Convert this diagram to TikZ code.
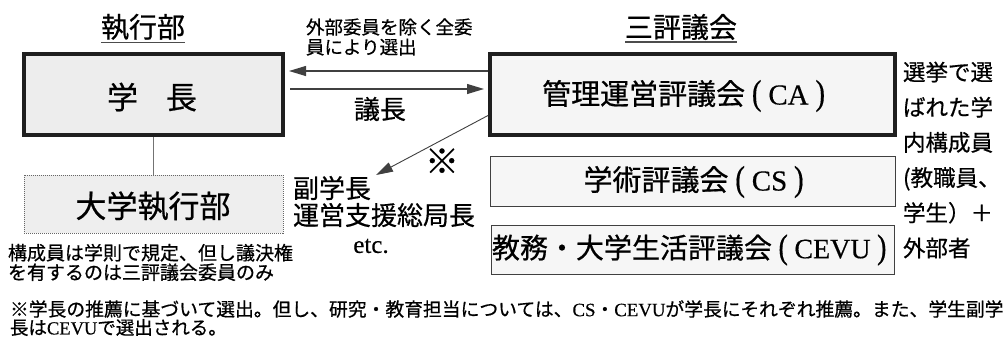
\documentclass[tikz,border=0pt]{standalone}
\usepackage{fontspec}
\usepackage{graphicx}
\setmainfont{Liberation Serif}
\newfontfamily\jp{Noto Sans CJK JP}
\newfontfamily\jpb[FakeBold=0.6]{Noto Sans CJK JP}
\newfontfamily\serb[FakeBold=0.4]{Liberation Serif}
\usetikzlibrary{arrows.meta}
\newcommand{\fs}[2]{\fontsize{#1}{#2}\selectfont}
\newcommand{\lpar}{\makebox[0.8em]{\serb\scalebox{1}[1.22]{(}}}
\newcommand{\rpar}{\makebox[0.8em]{\serb\scalebox{1}[1.22]{)}}}
\newcommand{\lat}[1]{{\serb #1}}
\tikzset{
  bigbox/.style={draw=black!88, line width=4pt, fill=gray!14, inner sep=0pt},
  thinbox/.style={draw=black!75, line width=1pt, fill=gray!7, inner sep=0pt},
  dotbox/.style={draw=black!60, dash pattern=on 1pt off 1pt, line width=0.9pt, fill=gray!13, inner sep=0pt},
  txt/.style={inner sep=0pt, outer sep=0pt, text=black},
  conn/.style={draw=black!65, line width=1.1pt},
  arr/.style={draw=black!75, line width=1.1pt, -{Triangle[length=17pt,width=10pt]}},
  uline/.style={draw=black!70, line width=1.2pt}
}
\begin{document}
\begin{tikzpicture}[x=1pt,y=-1pt]
\useasboundingbox[fill=white] (0,0) rectangle (1004,338);

% titles
\node[txt, font=\jpb\fs{28}{30}] (t1) at (143,27) {執行部};
\draw[uline] ([yshift=-2pt]t1.south west) -- ([yshift=-2pt]t1.south east);
\node[txt, font=\jpb\fs{28}{30}] (t2) at (681,27) {三評議会};
\draw[uline] ([yshift=-2pt]t2.south west) -- ([yshift=-2pt]t2.south east);

% boxes
\node[bigbox, minimum width=259pt, minimum height=81pt] (pres) at (153.5,94.5) {};
\node[txt, font=\jpb\fs{31}{33}] at (152,97) {学\hspace{0.9em}長};

\node[bigbox, fill=gray!8, minimum width=405pt, minimum height=81pt] (ca) at (692.5,94.5) {};
\node[txt, font=\jpb\fs{29}{31}] at (687,96) {管理運営評議会\lpar\lat{CA}\rpar};

\node[thinbox, minimum width=405pt, minimum height=50pt] (cs) at (692.5,181.5) {};
\node[txt, font=\jpb\fs{29}{31}] at (697,182) {学術評議会\lpar\lat{CS}\rpar};

\node[thinbox, minimum width=403pt, minimum height=49pt] (cevu) at (692.5,249.5) {};
\node[txt, font=\jpb\fs{28}{30}] at (692.5,250) {教務・大学生活評議会\lpar\lat{CEVU}\rpar};

\node[dotbox, minimum width=259pt, minimum height=58pt] (exec) at (153.5,204) {};
\node[txt, font=\jpb\fs{31}{33}] at (153,206) {大学執行部};

% connectors
\draw[conn, draw=black!55, line width=1.4pt] (pres.south) -- (exec.north);
\draw[arr, shorten >=4pt] ([yshift=23.5pt]ca.west) -- ([yshift=23.5pt]pres.east);
\draw[arr, shorten <=5pt, shorten >=4pt] ([yshift=5.5pt]pres.east) -- ([yshift=5.5pt]ca.west);
\coordinate (vp) at (376,175);
\draw[arr, line width=0.9pt] ([yshift=-21pt]ca.west) -- (vp);

% labels
\node[txt, font=\jpb\fs{18.5}{20}, align=left, anchor=west] (sel) at (306,37) {外部委員を除く全委\\員により選出};
\node[txt, font=\jpb\fs{26}{27}] (chair) at (380,109) {議長};
\node[txt, font=\jpb\fs{34}{36}] (mark) at (442,161) {※};
\node[txt, font=\jpb\fs{26}{27}, align=left, anchor=west] (vice) at (293,201.5) {副学長\\運営支援総局長};
\node[txt, font=\serb\fs{25}{26}] (etc) at (371,246) {etc.};
\node[txt, font=\jpb\fs{19}{19.5}, align=left, anchor=west] (memb) at (8,262.5) {構成員は学則で規定、但し議決権\\を有するのは三評議会委員のみ};
\node[txt, font=\jpb\fs{22.5}{35.2}, align=left, anchor=west] (elect) at (903,160) {選挙で選\\ばれた学\\内構成員\\(教職員、\\学生）＋\\外部者};

% note
\node[txt, font=\jpb\fs{18.8}{20}, anchor=west] (note1) at (10,309) {※学長の推薦に基づいて選出。但し、研究・教育担当については、\lat{CS}・\lat{CEVU}が学長にそれぞれ推薦。また、学生副学};
\node[txt, font=\jpb\fs{18.5}{20}, anchor=west] (note2) at (10,327.5) {長は\lat{CEVU}で選出される。};
\end{tikzpicture}
\end{document}
